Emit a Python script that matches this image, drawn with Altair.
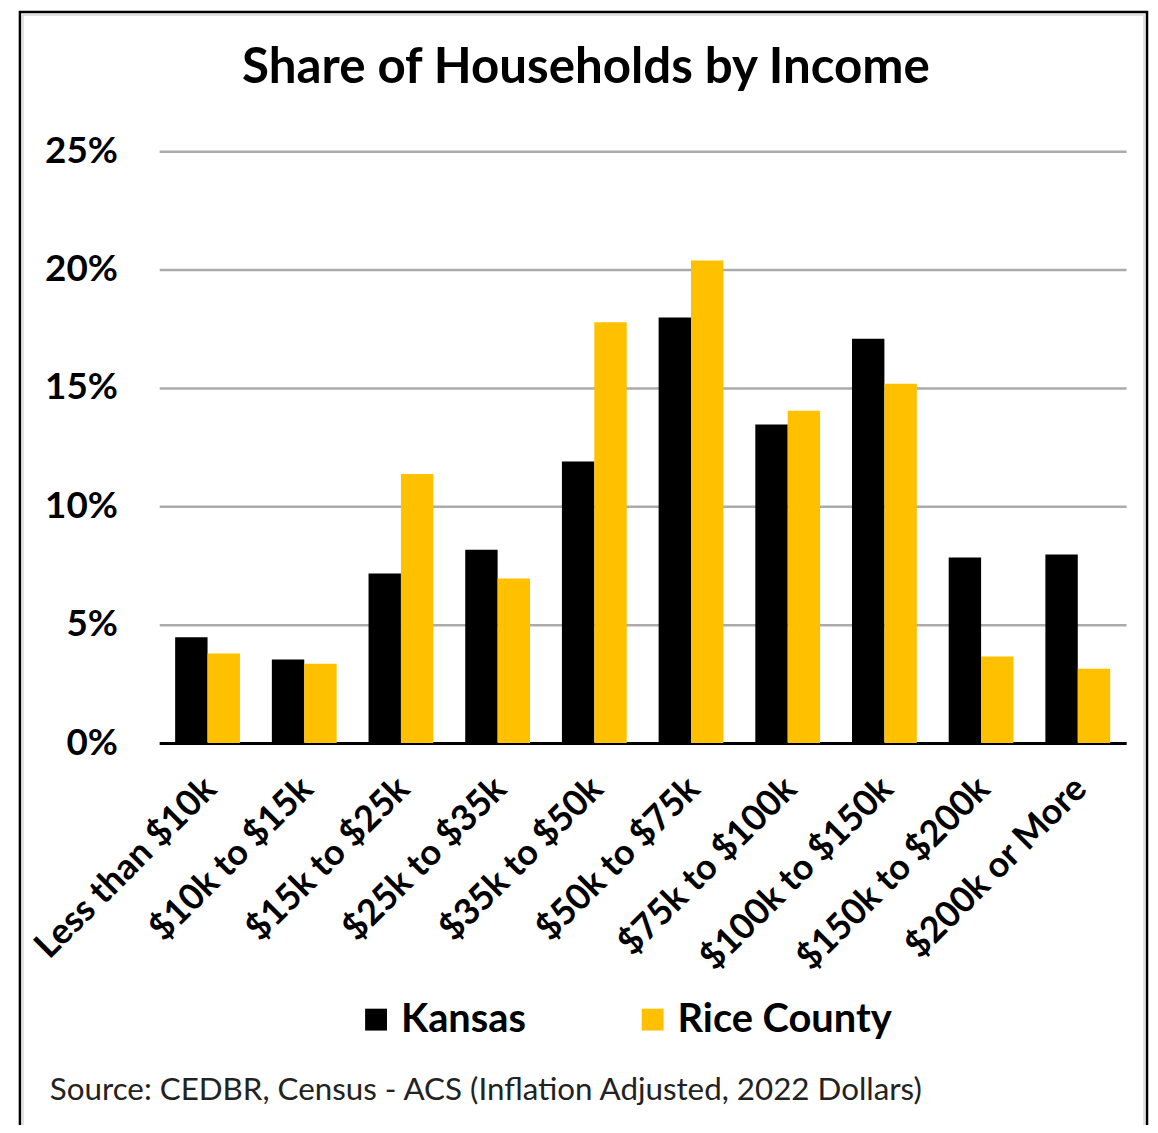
import altair as alt
import pandas as pd

categories = ["Less than $10k", "$10k to $15k", "$15k to $25k", "$25k to $35k",
              "$35k to $50k", "$50k to $75k", "$75k to $100k", "$100k to $150k",
              "$150k to $200k", "$200k or More"]
kansas = [4.47, 3.53, 7.16, 8.17, 11.89, 17.97, 13.46, 17.08, 7.84, 7.97]
rice = [3.78, 3.35, 11.37, 6.95, 17.77, 20.38, 14.04, 15.18, 3.66, 3.14]
series_names = ["Kansas", "Rice County"]
series_colors = ["#000000", "#FFC000"]
y_ticks = [0, 5, 10, 15, 20, 25]
title_text = ["Share of Households by Income"]
source_text = ["Source: CEDBR, Census - ACS (Inflation Adjusted, 2022 Dollars)"]

rows = []
for c, k, r in zip(categories, kansas, rice):
    rows.append({"category": c, "series": series_names[0], "value": k})
    rows.append({"category": c, "series": series_names[1], "value": r})
df = pd.DataFrame(rows)

FONT = "Lato"
W, H = 972, 595

bars = alt.Chart(df).mark_bar().encode(
    x=alt.X("category:N", sort=categories, title=None,
            scale=alt.Scale(paddingInner=0.33, paddingOuter=0.165),
            axis=alt.Axis(labelAngle=-45, labelAlign="right", labelBaseline="middle",
                          labelFont=FONT, labelFontWeight="bold", labelFontSize=36,
                          labelColor="#000000", labelPadding=40, labelOffset=3,
                          ticks=False, tickSize=0,
                          domainColor="#000000", domainWidth=3, labelOverlap=False,
                          labelLimit=400)),
    xOffset=alt.XOffset("series:N", sort=series_names),
    y=alt.Y("value:Q", title=None,
            scale=alt.Scale(domain=[0, 25], nice=False),
            axis=alt.Axis(values=y_ticks, labelExpr="datum.value + '%'",
                          labelFont=FONT, labelFontWeight="bold", labelFontSize=37,
                          labelColor="#000000", labelPadding=42, ticks=False,
                          domain=False, gridColor="#ABABAB", gridWidth=2.5)),
    color=alt.Color("series:N", sort=series_names,
                    scale=alt.Scale(domain=series_names, range=series_colors),
                    legend=alt.Legend(title=None, orient="none", direction="horizontal",
                                      legendX=198, legendY=853, padding=0,
                                      symbolType="square", symbolSize=484,
                                      symbolStrokeWidth=0,
                                      labelFont=FONT, labelFontWeight="bold",
                                      labelFontSize=40, labelColor="#000000",
                                      labelOffset=5, columnPadding=107,
                                      labelLimit=400)),
)

border = alt.Chart(pd.DataFrame({"b": [1]})).mark_rect(
    fill="transparent", stroke="#000000", strokeWidth=2.5
).encode(
    x=alt.value(-140), x2=alt.value(993), y=alt.value(-140), y2=alt.value(1100)
)
border_inner = alt.Chart(pd.DataFrame({"b": [1]})).mark_rect(
    fill="transparent", stroke="#D9D9D9", strokeWidth=1.5
).encode(
    x=alt.value(-137), x2=alt.value(990), y=alt.value(-137), y2=alt.value(1100)
)

title = alt.Chart(pd.DataFrame({"t": title_text})).mark_text(
    align="center", baseline="alphabetic", font=FONT, fontSize=49.5,
    fontWeight="bold", color="#000000"
).encode(
    x=alt.value(429), y=alt.value(-69), text="t:N"
)

source = alt.Chart(pd.DataFrame({"t": source_text})).mark_text(
    align="left", baseline="middle", font=FONT, fontSize=31.5, color="#222222"
).encode(
    x=alt.value(-110), y=alt.value(945), text="t:N"
)

chart = alt.layer(border, border_inner, bars, title, source).properties(
    width=W, height=H,
    padding={"left": 152, "top": 141, "right": 24, "bottom": 381},
    autosize=alt.AutoSizeParams(type="none"),
).configure_view(stroke=None)

chart.save("out.html", embed_options={"renderer": "svg", "actions": False})
